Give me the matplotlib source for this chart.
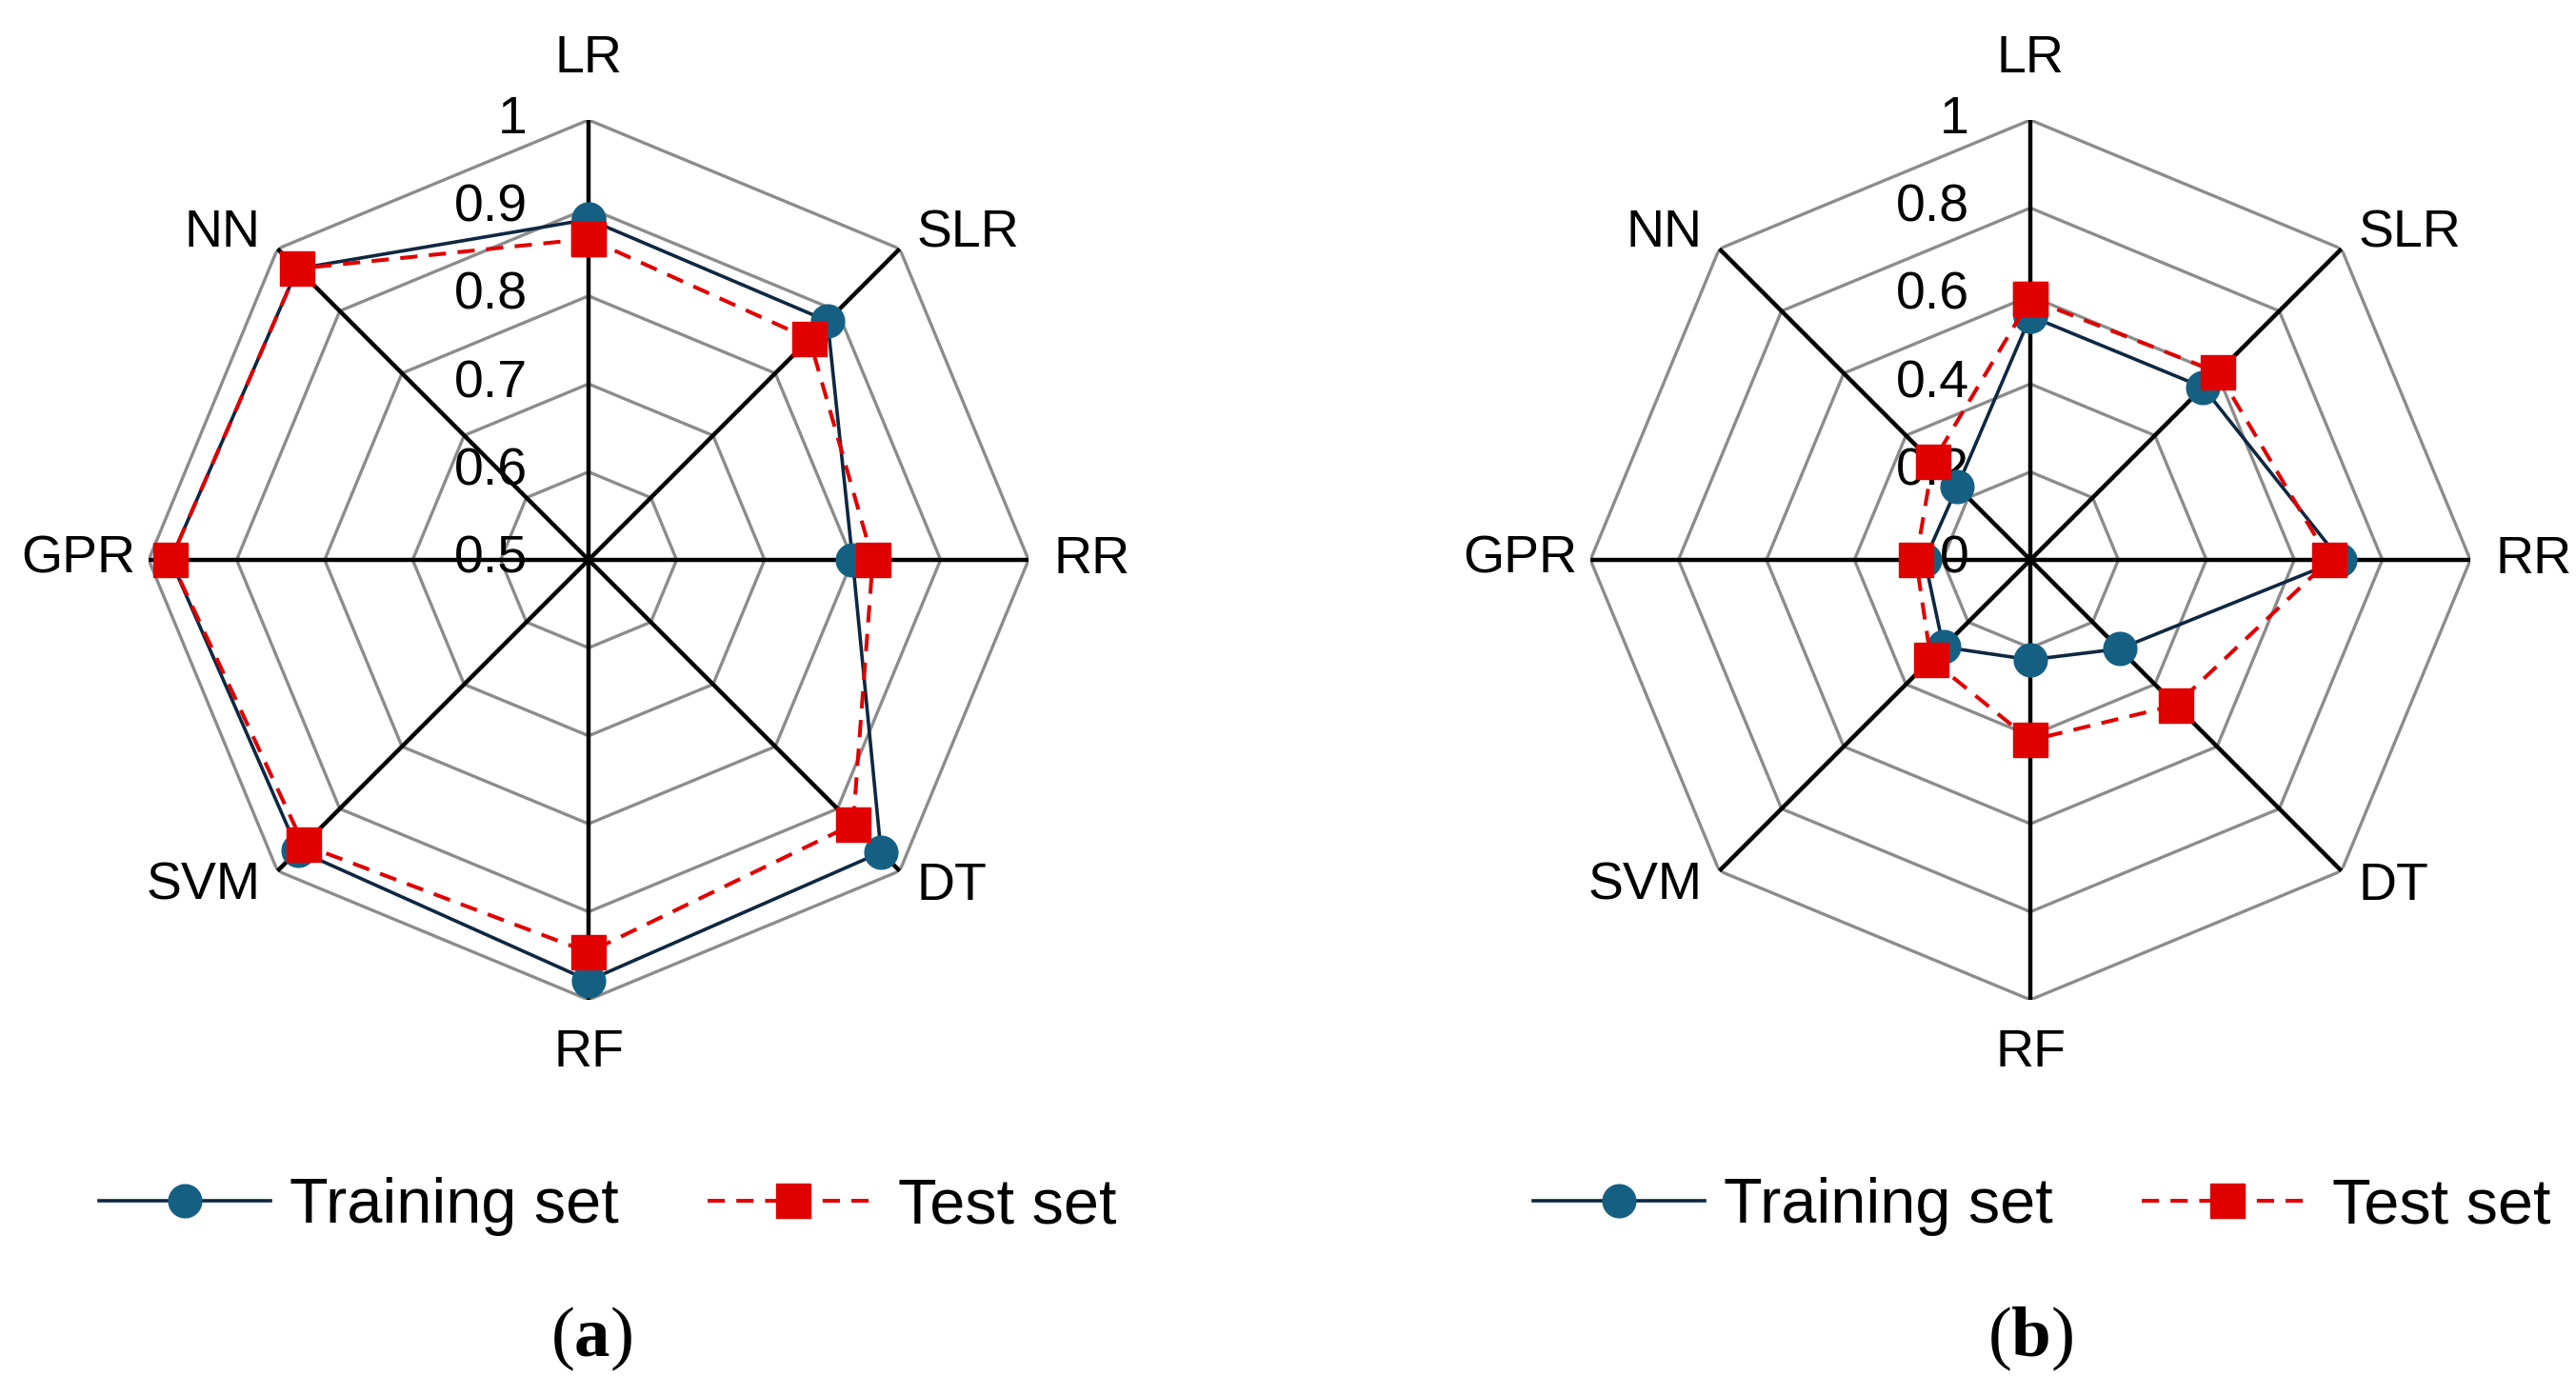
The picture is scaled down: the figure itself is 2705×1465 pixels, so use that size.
import numpy as np
import matplotlib.pyplot as plt
import matplotlib.transforms as mtransforms

# categories (clockwise from top)
models = ['LR', 'SLR', 'RR', 'DT', 'RF', 'SVM', 'GPR', 'NN']

# (a) panel
train_a = [0.887, 0.884, 0.800, 0.970, 0.978, 0.967, 0.975, 0.968]
test_a = [0.865, 0.855, 0.823, 0.925, 0.946, 0.958, 0.975, 0.968]
ticks_a = [0.5, 0.6, 0.7, 0.8, 0.9, 1.0]
ticklabels_a = ['0.5', '0.6', '0.7', '0.8', '0.9', '1']

# (b) panel
train_b = [0.554, 0.555, 0.704, 0.286, 0.227, 0.280, 0.240, 0.235]
test_b = [0.593, 0.603, 0.680, 0.467, 0.410, 0.320, 0.260, 0.314]
ticks_b = [0, 0.2, 0.4, 0.6, 0.8, 1.0]
ticklabels_b = ['0', '0.2', '0.4', '0.6', '0.8', '1']

plt.rcParams['font.family'] = ['Liberation Sans', 'DejaVu Sans']
plt.rcParams['mathtext.fontset'] = 'custom'
plt.rcParams['mathtext.rm'] = 'Liberation Serif'
plt.rcParams['mathtext.bf'] = 'Liberation Serif:bold'

navy = '#0E2841'
teal = '#156082'
red = '#E00000'
grey = '#8C8C8C'

fig = plt.figure(figsize=(27.05, 14.65), dpi=100)


def radar(rect, train, test, ticks, ticklabels, leg_x):
    ax = fig.add_axes(rect, projection='polar')
    ax.set_theta_offset(np.pi / 2)
    ax.set_theta_direction(-1)
    ang = np.linspace(0, 2 * np.pi, len(models), endpoint=False)
    closed = np.append(ang, ang[0])
    ax.set_ylim(ticks[0], ticks[-1])
    ax.axis('off')

    # octagon grid
    for t in ticks[1:]:
        ax.plot(closed, [t] * len(closed), color=grey, lw=2.4, zorder=1)
    for a in ang:
        ax.plot([a, a], [ticks[0], ticks[-1]], color='black', lw=3.2, zorder=2)

    # radial tick labels, left of the top spoke
    off = mtransforms.offset_copy(ax.transData, fig=fig, x=-64, y=0, units='dots')
    for t, lab in zip(ticks, ticklabels):
        ax.text(0, t, lab, transform=off, ha='right', va='center',
                fontsize=40, zorder=3)

    # category labels
    for a, name in zip(ang, models):
        sx, sy = np.sin(a), np.cos(a)
        if abs(sx) < 0.1:
            ha = 'center'
            va = 'bottom' if sy > 0 else 'top'
            dx, dy = 0, (38 if sy > 0 else -30)
        else:
            ha = 'left' if sx > 0 else 'right'
            va = 'center'
            if abs(sy) < 0.1:
                dx, dy = (26 if sx > 0 else -14), 0
            else:
                dx, dy = 18 * np.sign(sx), 16 * np.sign(sy)
        tr = mtransforms.offset_copy(ax.transData, fig=fig, x=dx, y=dy, units='dots')
        ax.text(a, ticks[-1], name, transform=tr, ha=ha, va=va, fontsize=40,
                clip_on=False)

    ax.plot(closed, train + train[:1], color=navy, lw=2.6, marker='o',
            markersize=25, markerfacecolor=teal, markeredgecolor=teal,
            label='Training set', zorder=4, clip_on=False)
    ax.plot(closed, test + test[:1], color=red, lw=2.9, ls=(0, (4.5, 3)),
            marker='s', markersize=26, markerfacecolor=red, markeredgecolor=red,
            label='Test set', zorder=5, clip_on=False)

    ax.legend(loc='center', bbox_to_anchor=(leg_x, 0.135),
              bbox_transform=fig.transFigure, ncol=2, frameon=False,
              fontsize=48, handlelength=2.7, handletextpad=0.3,
              columnspacing=1.4)
    return ax


radar([0.0577, 0.2833, 0.3416, 0.6307], train_a, test_a, ticks_a, ticklabels_a, 0.236)
radar([0.6174, 0.2833, 0.3416, 0.6307], train_b, test_b, ticks_b, ticklabels_b, 0.7927)

fig.text(0.2296, 0.040, r'($\mathbf{a}$)', family='Liberation Serif',
         fontsize=54, ha='center', va='center')
fig.text(0.7882, 0.040, r'($\mathbf{b}$)', family='Liberation Serif',
         fontsize=54, ha='center', va='center')

fig.savefig('out.png', dpi=100)
